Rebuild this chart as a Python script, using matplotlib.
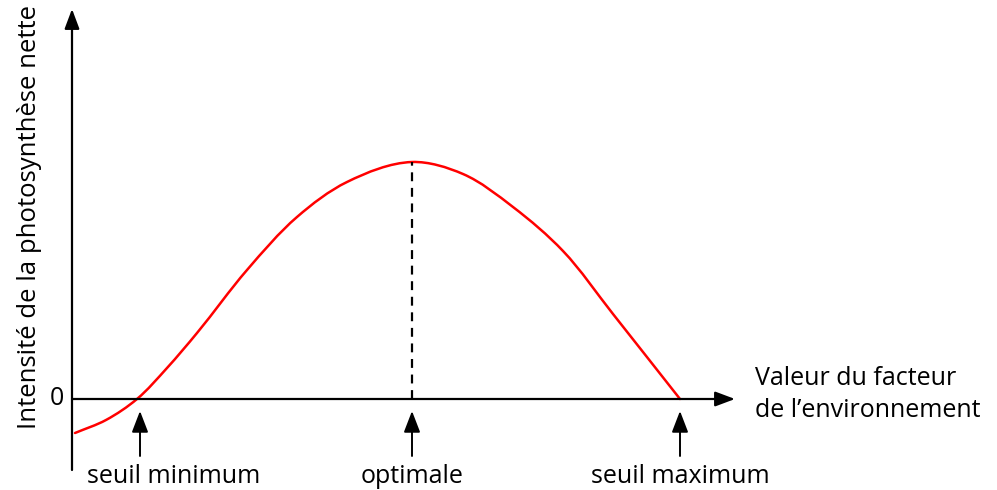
import matplotlib
matplotlib.use("Agg")
import matplotlib.pyplot as plt
from matplotlib.path import Path
from matplotlib.patches import PathPatch

plt.rcParams['font.family'] = ['Open Sans', 'DejaVu Sans']

# Curve (factor value, net photosynthesis intensity)
curve_x = [3, 34, 65, 95, 125, 175, 225, 275, 340, 391, 441, 491, 541, 608]
curve_y = [-34, -21, 0, 31, 66, 129, 182, 217, 237, 225, 192, 148, 85, 0]

marker_x = [68, 340, 608]
marker_labels = ["seuil minimum", "optimale", "seuil maximum"]
peak_y = 237

fig = plt.figure(figsize=(9.97, 4.9), dpi=100)
ax = fig.add_axes([0, 0, 1, 1])
ax.set_xlim(-72, 925)
ax.set_ylim(-91, 399)
ax.axis('off')

# axes arrows
ax.annotate('', xy=(663, 0), xytext=(0, 0),
            arrowprops=dict(arrowstyle='-|>,head_length=1.2,head_width=0.45',
                            color='black', lw=1.6, shrinkA=0, shrinkB=0))
ax.annotate('', xy=(0, 390), xytext=(0, -71),
            arrowprops=dict(arrowstyle='-|>,head_length=1.2,head_width=0.45',
                            color='black', lw=1.6, shrinkA=0, shrinkB=0))

# smooth curve through the read points (centripetal Catmull-Rom -> Bezier)
pts = list(zip(curve_x, curve_y))
verts = [pts[0]]
codes = [Path.MOVETO]
n = len(pts)


def dist(a, b):
    return max(((a[0] - b[0]) ** 2 + (a[1] - b[1]) ** 2) ** 0.5, 1e-6)


for i in range(n - 1):
    p1 = pts[i]
    p2 = pts[i + 1]
    p0 = pts[i - 1] if i > 0 else (2 * p1[0] - p2[0], 2 * p1[1] - p2[1])
    p3 = pts[i + 2] if i + 2 < n else (2 * p2[0] - p1[0], 2 * p2[1] - p1[1])
    d1, d2, d3 = dist(p0, p1), dist(p1, p2), dist(p2, p3)
    # tangents scaled by segment lengths (non-uniform Catmull-Rom)
    t1 = [((p2[k] - p1[k]) / d2 + (p1[k] - p0[k]) / d1) / 2 for k in range(2)]
    t2 = [((p3[k] - p2[k]) / d3 + (p2[k] - p1[k]) / d2) / 2 for k in range(2)]
    c1 = (p1[0] + t1[0] * d2 / 3, p1[1] + t1[1] * d2 / 3)
    c2 = (p2[0] - t2[0] * d2 / 3, p2[1] - t2[1] * d2 / 3)
    verts += [c1, c2, p2]
    codes += [Path.CURVE4] * 3
ax.add_patch(PathPatch(Path(verts, codes), facecolor='none',
                       edgecolor='#ff0000', lw=1.8, capstyle='round'))

# dashed optimum line
ax.plot([marker_x[1], marker_x[1]], [0, peak_y], color='black', lw=1.6,
        linestyle=(0, (4, 3)))

# marker arrows
for mx in marker_x:
    ax.annotate('', xy=(mx, -12), xytext=(mx, -57),
                arrowprops=dict(arrowstyle='-|>,head_length=1.3,head_width=0.5',
                                color='black', lw=1.4, shrinkA=0, shrinkB=0))

fs = 18
ax.text(15, -77, marker_labels[0], ha='left', va='center', fontsize=fs)
ax.text(marker_x[1], -77, marker_labels[1], ha='center', va='center', fontsize=fs)
ax.text(marker_x[2], -77, marker_labels[2], ha='center', va='center', fontsize=fs)

ax.text(-8, 1, "0", ha='right', va='center', fontsize=fs)
ax.text(683, 21, "Valeur du facteur", ha='left', va='center', fontsize=fs)
ax.text(683, -11, "de l\u2019environnement", ha='left', va='center', fontsize=fs)
ax.text(-42, 182, "Intensité de la photosynthèse nette", ha='center', va='center',
        rotation=90, fontsize=18.5)

fig.savefig("out.png", dpi=100)
